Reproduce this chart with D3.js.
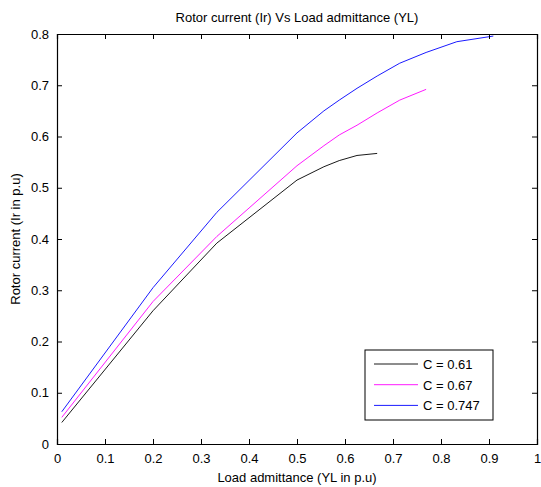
<!DOCTYPE html>
<html>
<head>
<meta charset="utf-8">
<script src="https://cdn.jsdelivr.net/npm/d3@7"></script>
<style>
  body { margin: 0; background: #fff; }
  svg { font-family: "Liberation Sans", Arial, sans-serif; }
</style>
</head>
<body>
<div id="chart"></div>
<script>
// load admittance (p.u)
const yl061 = [0.01, 0.2, 0.333, 0.5, 0.556, 0.588, 0.625, 0.667];
const ir061 = [0.042, 0.26, 0.392, 0.515, 0.541, 0.553, 0.563, 0.567];

const yl067 = [0.01, 0.2, 0.333, 0.5, 0.556, 0.588, 0.625, 0.667, 0.714, 0.769];
const ir067 = [0.052, 0.278, 0.405, 0.543, 0.582, 0.603, 0.622, 0.646, 0.671, 0.692];

const yl0747 = [0.01, 0.2, 0.333, 0.5, 0.556, 0.588, 0.625, 0.667, 0.714, 0.769, 0.833, 0.909];
const ir0747 = [0.063, 0.305, 0.452, 0.607, 0.650, 0.671, 0.694, 0.718, 0.743, 0.764, 0.785, 0.796];

const seriesNames = ["C = 0.61", "C = 0.67", "C = 0.747"];
const seriesColors = ["#000000", "#ff00ff", "#0000ff"];

const xTicks = [0, 0.1, 0.2, 0.3, 0.4, 0.5, 0.6, 0.7, 0.8, 0.9, 1];
const yTicks = [0, 0.1, 0.2, 0.3, 0.4, 0.5, 0.6, 0.7, 0.8];

const W = 541, H = 487;
const mLeft = 57, mRight = 537, mTop = 34, mBottom = 444;

const svg = d3.select("#chart").append("svg")
    .attr("width", W).attr("height", H);

const x = d3.scaleLinear().domain([0, 1]).range([mLeft, mRight]);
const y = d3.scaleLinear().domain([0, 0.8]).range([mBottom, mTop]);

const series = [
    d3.zip(yl061, ir061),
    d3.zip(yl067, ir067),
    d3.zip(yl0747, ir0747)
];

const line = d3.line().x(d => x(d[0])).y(d => y(d[1]));

svg.append("g").selectAll("path")
    .data(series)
    .join("path")
    .attr("fill", "none")
    .attr("stroke", (d, i) => seriesColors[i])
    .attr("stroke-width", 0.9)
    .attr("d", line);

// axes, ticks pointing inward like matlab
function fmt(v) { return v === 0 ? "0" : (v === 1 ? "1" : d3.format(".1f")(v)); }

svg.append("g")
    .attr("transform", `translate(0,${mBottom})`)
    .call(d3.axisBottom(x).tickValues(xTicks).tickSize(-5).tickPadding(10).tickFormat(fmt))
    .call(g => g.selectAll("text").attr("font-size", "13px").attr("fill", "#000"));
svg.append("g")
    .attr("transform", `translate(0,${mTop})`)
    .call(d3.axisTop(x).tickValues(xTicks).tickSize(-5).tickFormat(""));
svg.append("g")
    .attr("transform", `translate(${mLeft},0)`)
    .call(d3.axisLeft(y).tickValues(yTicks).tickSize(-5).tickPadding(8).tickFormat(fmt))
    .call(g => g.selectAll("text").attr("font-size", "13px").attr("fill", "#000"));
svg.append("g")
    .attr("transform", `translate(${mRight},0)`)
    .call(d3.axisRight(y).tickValues(yTicks).tickSize(-5).tickFormat(""));

svg.selectAll(".domain").attr("stroke", "#000").attr("stroke-width", 1.2);

svg.append("text")
    .attr("x", (mLeft + mRight) / 2).attr("y", 22)
    .attr("text-anchor", "middle").attr("font-size", "13px")
    .text("Rotor current (Ir) Vs Load admittance (YL)");

svg.append("text")
    .attr("x", (mLeft + mRight) / 2).attr("y", 482)
    .attr("text-anchor", "middle").attr("font-size", "13px")
    .text("Load admittance (YL in p.u)");

svg.append("text")
    .attr("transform", `translate(20,${(mTop + mBottom) / 2}) rotate(-90)`)
    .attr("text-anchor", "middle").attr("font-size", "13px")
    .text("Rotor current (Ir in p.u)");

// legend
const legend = svg.append("g").attr("transform", "translate(365,350)");
legend.append("rect")
    .attr("width", 128).attr("height", 70)
    .attr("fill", "#fff").attr("stroke", "#000").attr("stroke-width", 1);
const rows = legend.selectAll("g.row")
    .data(seriesNames)
    .join("g")
    .attr("class", "row")
    .attr("transform", (d, i) => `translate(0,${14 + i * 20.7})`);
rows.append("line")
    .attr("x1", 9).attr("x2", 53)
    .attr("stroke", (d, i) => seriesColors[i]).attr("stroke-width", 0.9);
rows.append("text")
    .attr("x", 58).attr("y", 5)
    .attr("font-size", "13px")
    .text(d => d);
</script>
</body>
</html>
